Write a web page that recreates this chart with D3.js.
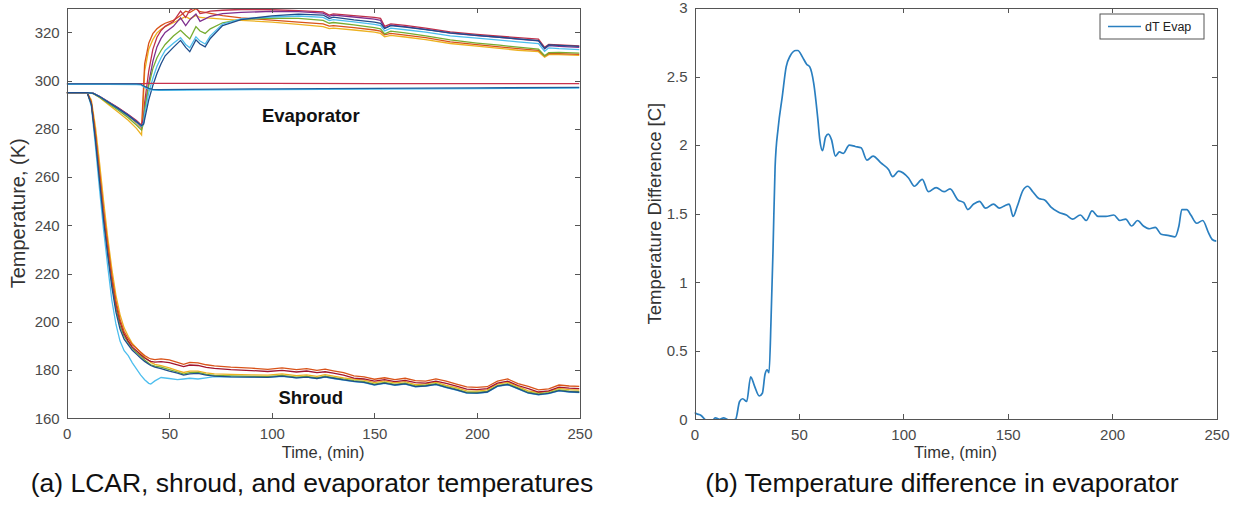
<!DOCTYPE html>
<meta charset="utf-8">
<script src="https://d3js.org/d3.v7.min.js"></script>
<style>
body { margin: 0; background: #fff; }
svg { display: block; font-family: "Liberation Sans", Arial, sans-serif; }
.axis path, .axis line { stroke: #555; stroke-width: 1; shape-rendering: crispEdges; }
.axis text { fill: #4a4a4a; font-size: 15px; font-family: "Liberation Sans", Arial, sans-serif; }
.lab { fill: #333; }
.note { font-weight: bold; font-size: 18.5px; fill: #111; }
.cap { font-size: 26.5px; fill: #111; }
</style>
<body>
<div id="container"></div>
<script>

//-----------------------------DATA-----------------------------//
// (a) LCAR temperatures [K] vs time [min]
var tL = [0, 10, 13, 16, 20, 25, 30, 34, 36.5, 37.5, 38, 40, 42, 44, 46, 48, 52, 55.5, 58, 60, 63, 65, 67.5, 70, 76, 85, 100, 113, 125, 128, 130, 140, 150, 153, 155, 158, 165, 175, 187, 200, 211, 220, 230, 233, 235, 240, 250];
var lcarBlue = [295, 295, 294.7, 293.4, 291.2, 288.5, 285.6, 283.0, 281.3, 282.0, 284, 292, 298, 303, 307, 310.3, 313.8, 316.7, 313.8, 312, 316.9, 315.2, 314, 317.5, 322.8, 325.3, 326.9, 327.6, 327.2, 325.8, 326.3, 325.2, 324.3, 323.8, 321.6, 322.8, 322.2, 321.2, 319.8, 318.8, 318, 317.3, 316.6, 313.4, 314.8, 314.6, 314.2];
var lcarRed = [295, 295, 294.7, 293.5, 291.4, 288.8, 286, 283.5, 281.5, 285, 291, 304, 313, 318, 320.8, 322.5, 324.5, 328.8, 326.2, 329.2, 330.5, 327.8, 328.2, 328.8, 329.2, 329.5, 329.4, 329, 328.5, 327.2, 327.7, 327, 326.2, 325.8, 322.5, 323.5, 322.9, 321.8, 320.2, 319.2, 318.5, 317.8, 317.2, 313.8, 315, 314.8, 314.4];
var lcarPurple = [295, 295, 294.7, 293.4, 291.3, 288.6, 285.8, 283.2, 281.0, 283.5, 288, 299, 308, 314, 317.5, 320, 322.5, 326, 322.8, 325.2, 327.6, 324.6, 325.6, 326.7, 327.8, 328.3, 328.7, 328.6, 328, 326.7, 327.2, 326.4, 325.5, 325, 321.8, 323, 322.4, 321.3, 319.7, 318.7, 318, 317.2, 316.5, 313.2, 314.5, 314.2, 313.8];
var lcarCyan = [295, 295, 294.7, 293.4, 291.2, 288.4, 285.5, 282.9, 281.0, 282.5, 286, 295, 301, 306, 309.5, 312.5, 315.5, 317.8, 315, 313.6, 318.2, 316.4, 315.2, 318.6, 323.5, 325.6, 326.4, 326.8, 326.2, 324.9, 325.3, 324.4, 323.3, 322.8, 320.6, 321.8, 321.1, 320.1, 318.6, 317.6, 316.8, 316.1, 315.4, 312.2, 313.6, 313.3, 312.9];
var lcarGreen = [295, 295, 294.6, 293.1, 290.8, 287.8, 284.6, 281.6, 279.5, 282.5, 288, 298, 305, 309.5, 312.5, 315, 318.5, 320.9, 318.8, 317.3, 322.4, 320.6, 319.6, 321.5, 324, 325.4, 325.9, 325.8, 325, 323.8, 324.1, 323.1, 322, 321.5, 319.4, 320.5, 319.8, 318.6, 316.9, 315.6, 314.7, 313.9, 313.1, 310.3, 311.6, 311.7, 311.4];
var lcarOrange = [295, 295, 294.7, 293.3, 291, 288.2, 285.3, 282.6, 280.5, 298, 307, 315.5, 319.5, 321.5, 322.8, 323.8, 325, 327, 328.8, 328.2, 329.8, 328.6, 328.3, 327.9, 327, 326, 325.1, 324.3, 323.5, 322.6, 322.8, 322, 321, 320.5, 319, 319.6, 318.9, 317.8, 316.1, 314.9, 314, 313.3, 312.6, 310.2, 311.2, 311.2, 310.9];
var lcarYellow = [295, 295, 294.6, 293, 290.3, 287, 283.6, 280.2, 277.5, 294, 304, 313, 317, 319.8, 321.3, 322.4, 324, 325.5, 326.6, 325.6, 327, 326.2, 326, 325.9, 325.5, 325, 324.3, 323.3, 322.4, 321.6, 321.8, 321, 320.1, 319.6, 318.2, 318.8, 318.1, 317, 315.4, 314.3, 313.4, 312.6, 312, 309.7, 310.8, 310.8, 310.5];

// (a) evaporator temperatures [K]
var tE = [0, 20, 34, 36, 38, 40, 42, 45, 60, 100, 150, 200, 250];
var evapRed = [298.8, 298.8, 298.8, 298.8, 298.8, 298.9, 298.9, 298.9, 298.9, 298.9, 298.8, 298.8, 298.8];
var evapBlue = [298.7, 298.7, 298.7, 298.6, 297.6, 296.8, 296.4, 296.3, 296.4, 296.6, 296.8, 297.0, 297.2];
var evapCyan = [298.5, 298.5, 298.4, 298.3, 297.2, 296.4, 296.1, 296.0, 296.1, 296.3, 296.5, 296.7, 296.9];

// (a) shroud temperatures [K]
var tS = [0, 10, 12, 14, 16, 18, 20, 22, 24, 26, 28, 30, 32, 34, 36, 38, 40, 41, 43, 46, 50, 54, 57, 60, 64, 68, 72, 80, 90, 98, 105, 112, 117, 122, 126, 130, 135, 140, 145, 150, 155, 160, 165, 170, 175, 180, 185, 190, 195, 200, 205, 210, 215, 220, 225, 230, 235, 240, 245, 250];
var shrOrange = [295, 295, 291, 278, 262, 246, 232, 219, 208.5, 201, 196, 193, 190.5, 189, 187.5, 186, 185, 184.6, 184.3, 184.6, 184.2, 183.2, 182.4, 183.2, 183, 182.2, 181.7, 181.2, 180.8, 180.3, 180.9, 180.2, 180.6, 179.9, 180.4, 179.7, 178.9, 177.6, 177.2, 176.2, 176.8, 176, 176.6, 175.6, 175.4, 176.3, 175.4, 174.2, 173, 172.8, 173.1, 175.4, 176.3, 174.4, 173.2, 171.8, 172.2, 173.8, 173.4, 173.2];
var shrRed = [295, 295, 290.8, 277.5, 261, 245, 231, 218, 207.5, 200, 195, 192, 189.5, 188, 186.5, 185, 184, 183.6, 183.3, 183.5, 183.1, 182.2, 181.4, 182.1, 181.9, 181.1, 180.7, 180.2, 179.8, 179.4, 179.9, 179.2, 179.6, 178.9, 179.3, 178.7, 177.9, 176.7, 176.3, 175.4, 176, 175.2, 175.7, 174.8, 174.6, 175.4, 174.5, 173.3, 172.1, 171.9, 172.3, 174.6, 175.4, 173.6, 172.3, 170.9, 171.4, 172.9, 172.5, 172.3];
var shrYellow = [295, 295, 292, 281, 266, 250, 235, 222, 211, 203, 197.5, 194, 191, 189.2, 187.2, 185.5, 184, 183.2, 182.4, 181.8, 180.9, 179.8, 179, 179.6, 179.6, 178.8, 178.4, 178.2, 178, 177.9, 178.4, 177.7, 178, 177.4, 178.1, 177.5, 176.8, 176.2, 175.8, 174.8, 175.5, 174.7, 175.2, 174, 174.3, 175, 173.7, 172.7, 171.4, 171.3, 171.8, 174.2, 174.9, 173.2, 171.4, 170.7, 171.2, 172.4, 171.9, 171.7];
var shrGreen = [295, 295, 290.5, 276.5, 260, 243.5, 229, 216, 205.5, 198.5, 194, 191.5, 189, 187.3, 185.8, 184.2, 182.8, 182.2, 181.6, 181.2, 180.2, 179.2, 178.3, 178.9, 179, 178.2, 177.8, 177.6, 177.4, 177.3, 177.8, 177.1, 177.4, 176.8, 177.5, 176.9, 176.2, 175.6, 175.2, 174.2, 174.9, 174.1, 174.6, 173.4, 173.7, 174.4, 173.1, 172.1, 170.8, 170.7, 171.2, 173.6, 174.3, 172.6, 170.8, 170.1, 170.6, 171.8, 171.3, 171.1];
var shrBlue = [295, 295, 290.2, 275.5, 258.5, 242, 227.5, 214.5, 204, 197, 192.8, 190.5, 188.2, 186.6, 185, 183.6, 182.4, 181.9, 181.2, 180.6, 179.6, 178.7, 177.9, 178.4, 178.6, 177.9, 177.5, 177.2, 177.1, 177, 177.5, 176.8, 177.1, 176.5, 177.2, 176.6, 175.9, 175.3, 174.9, 173.9, 174.6, 173.8, 174.3, 173.1, 173.4, 174.1, 172.8, 171.8, 170.5, 170.4, 170.9, 173.3, 174, 172.3, 170.5, 169.8, 170.3, 171.5, 171, 170.8];
var shrCyan = [295, 295, 289.5, 273, 255, 238, 223, 209, 199, 192, 188, 186, 183, 180.5, 178, 176, 174.5, 174.2, 175.5, 176.9, 176.5, 176, 176.3, 176.6, 176.3, 176.8, 177.3, 177.2, 177.1, 177, 177.4, 176.8, 177.1, 176.5, 177.1, 176.5, 175.8, 175.2, 174.8, 173.8, 174.5, 173.7, 174.2, 173, 173.3, 174, 172.7, 171.7, 170.4, 170.3, 170.8, 173.2, 173.9, 172.2, 170.4, 169.7, 170.2, 171.4, 170.9, 170.7];

// (b) temperature difference in evaporator [C]
var tD = [0, 1, 3, 5, 8, 10, 12, 14, 17, 19.7, 21.6, 23.1, 25, 26.9, 28.8, 31, 32.5, 33.8, 34.8, 35.7, 36.7, 37.6, 38.6, 40.1, 42, 43.9, 45.8, 48.6, 49.5, 51.8, 53.7, 55.2, 57.1, 59, 60, 61.3, 62.8, 64.1, 65.6, 67.5, 69.4, 71.3, 74.1, 77, 79.8, 82.6, 85.5, 89.3, 93, 94.9, 97.8, 102.5, 105.3, 109.1, 112, 115.7, 119.5, 122.4, 126.1, 129, 130.9, 133.7, 136.5, 139.4, 143.2, 146, 148.8, 150.7, 152.6, 154.5, 157.3, 159.6, 162, 164.9, 167.7, 170.6, 174.4, 178.1, 181, 184.8, 187.6, 190.4, 193.3, 197, 200.8, 203.7, 206.5, 209.4, 212.2, 215, 217.9, 220.7, 223.5, 227.3, 230.1, 232, 233.4, 235.8, 237.7, 240.5, 243.4, 246.2, 248.1, 250];
var dTEvap = [0.05, 0.04, 0.03, 0.0, -0.02, 0.01, 0.0, 0.01, -0.01, 0.0, 0.13, 0.15, 0.13, 0.31, 0.24, 0.17, 0.19, 0.33, 0.36, 0.34, 0.75, 1.23, 1.84, 2.13, 2.35, 2.57, 2.65, 2.69, 2.69, 2.64, 2.59, 2.57, 2.45, 2.2, 2.04, 1.96, 2.06, 2.08, 2.04, 1.92, 1.95, 1.94, 2.0, 1.99, 1.98, 1.89, 1.92, 1.87, 1.82, 1.77, 1.81, 1.76, 1.70, 1.75, 1.66, 1.69, 1.66, 1.68, 1.60, 1.58, 1.53, 1.57, 1.59, 1.54, 1.57, 1.54, 1.56, 1.57, 1.48, 1.55, 1.67, 1.70, 1.66, 1.61, 1.60, 1.55, 1.51, 1.49, 1.46, 1.49, 1.45, 1.52, 1.48, 1.48, 1.49, 1.45, 1.46, 1.41, 1.45, 1.41, 1.39, 1.40, 1.35, 1.34, 1.33, 1.41, 1.53, 1.53, 1.49, 1.43, 1.45, 1.36, 1.31, 1.30];

var xTicks = [0, 50, 100, 150, 200, 250];
var yTicksA = [160, 180, 200, 220, 240, 260, 280, 300, 320];
var yTicksB = [0, 0.5, 1, 1.5, 2, 2.5, 3];

// series -> colour (matlab palette)
var seriesA = [
    {t: tS, v: shrCyan, c: "#4DBEEE"},
    {t: tS, v: shrYellow, c: "#EDB120"},
    {t: tS, v: shrGreen, c: "#77AC30"},
    {t: tS, v: shrRed, c: "#A2142F"},
    {t: tS, v: shrOrange, c: "#D95319"},
    {t: tS, v: shrBlue, c: "#1f4e8c"},
    {t: tL, v: lcarYellow, c: "#EDB120"},
    {t: tL, v: lcarOrange, c: "#D95319"},
    {t: tL, v: lcarRed, c: "#C0304A"},
    {t: tL, v: lcarPurple, c: "#7E2F8E"},
    {t: tL, v: lcarGreen, c: "#77AC30"},
    {t: tL, v: lcarCyan, c: "#4DBEEE"},
    {t: tL, v: lcarBlue, c: "#1f4e8c"},
    {t: tE, v: evapRed, c: "#C8324E"},
    {t: tE, v: evapCyan, c: "#4DBEEE"},
    {t: tE, v: evapBlue, c: "#1f5f9c"}
];

//----------------------------LAYOUT----------------------------//
var W = 1241, H = 507;
var pA = {left: 66.7, right: 579.5, top: 8.3, bottom: 418.3};
var pB = {left: 694.5, right: 1216.5, top: 8, bottom: 419.3};

var svg = d3.select("#container").append("svg")
    .attr("width", W)
    .attr("height", H);

var xA = d3.scaleLinear().domain([0, 250]).range([pA.left, pA.right]);
var yA = d3.scaleLinear().domain([160, 330]).range([pA.bottom, pA.top]);
var xB = d3.scaleLinear().domain([0, 250]).range([pB.left, pB.right]);
var yB = d3.scaleLinear().domain([0, 3]).range([pB.bottom, pB.top]);

// draws the matlab style box with inward ticks on all four sides
function drawBox(p, x, y, yTicks, yFmt, pad) {
    svg.append("g").attr("class", "axis")
        .attr("transform", "translate(0," + p.bottom + ")")
        .call(d3.axisBottom(x).tickValues(xTicks).tickSizeInner(-5).tickSizeOuter(0).tickPadding(10));
    svg.append("g").attr("class", "axis")
        .attr("transform", "translate(0," + p.top + ")")
        .call(d3.axisTop(x).tickValues(xTicks).tickSizeInner(-5).tickSizeOuter(0).tickFormat(""));
    svg.append("g").attr("class", "axis")
        .attr("transform", "translate(" + p.left + ",0)")
        .call(d3.axisLeft(y).tickValues(yTicks).tickFormat(yFmt).tickSizeInner(-5).tickSizeOuter(0).tickPadding(pad));
    svg.append("g").attr("class", "axis")
        .attr("transform", "translate(" + p.right + ",0)")
        .call(d3.axisRight(y).tickValues(yTicks).tickSizeInner(-5).tickSizeOuter(0).tickFormat(""));
}

function clip(id, p) {
    svg.append("clipPath").attr("id", id).append("rect")
        .attr("x", p.left).attr("y", p.top)
        .attr("width", p.right - p.left).attr("height", p.bottom - p.top);
}

//-------------------------(a) PANEL----------------------------//
clip("clipA", pA);
var lineA = d3.line()
    .x(function(d) { return xA(d[0]); })
    .y(function(d) { return yA(d[1]); });

svg.append("g").attr("clip-path", "url(#clipA)")
    .selectAll("path")
    .data(seriesA)
    .enter()
    .append("path")
    .attr("fill", "none")
    .attr("stroke", function(d) { return d.c; })
    .attr("stroke-width", 1.3)
    .attr("d", function(d) { return lineA(d.t.map(function(t, i) { return [t, d.v[i]]; })); });

drawBox(pA, xA, yA, yTicksA, d3.format("d"), 7);

svg.append("text").attr("class", "note").attr("text-anchor", "middle")
    .attr("x", xA(119)).attr("y", yA(310.5)).text("LCAR");
svg.append("text").attr("class", "note").attr("text-anchor", "middle")
    .attr("x", xA(119)).attr("y", yA(283)).text("Evaporator");
svg.append("text").attr("class", "note").attr("text-anchor", "middle")
    .attr("x", xA(119)).attr("y", yA(166)).text("Shroud");

svg.append("text").attr("class", "lab").attr("text-anchor", "middle")
    .style("font-size", "16.5px")
    .attr("x", (pA.left + pA.right) / 2).attr("y", 458)
    .text("Time, (min)");
svg.append("text").attr("class", "lab").attr("text-anchor", "middle")
    .style("font-size", "20px")
    .attr("transform", "translate(25," + ((pA.top + pA.bottom) / 2) + ") rotate(-90)")
    .text("Temperature, (K)");

//-------------------------(b) PANEL----------------------------//
clip("clipB", pB);
var lineB = d3.line()
    .curve(d3.curveMonotoneX)
    .x(function(d, i) { return xB(tD[i]); })
    .y(function(d) { return yB(d); });

svg.append("g").attr("clip-path", "url(#clipB)")
    .append("path")
    .datum(dTEvap)
    .attr("fill", "none")
    .attr("stroke", "#2a7fc0")
    .attr("stroke-width", 1.7)
    .attr("d", lineB);

drawBox(pB, xB, yB, yTicksB, function(d) { return String(d); }, 7);

svg.append("text").attr("class", "lab").attr("text-anchor", "middle")
    .style("font-size", "16.5px")
    .attr("x", (pB.left + pB.right) / 2).attr("y", 458)
    .text("Time, (min)");
svg.append("text").attr("class", "lab").attr("text-anchor", "middle")
    .style("font-size", "18.5px")
    .attr("transform", "translate(661," + ((pB.top + pB.bottom) / 2) + ") rotate(-90)")
    .text("Temperature Difference [C]");

// legend
var lg = svg.append("g").attr("transform", "translate(1100,14)");
lg.append("rect").attr("width", 104).attr("height", 25)
    .attr("fill", "#fff").attr("stroke", "#555").attr("stroke-width", 1);
lg.append("line").attr("x1", 8).attr("x2", 41).attr("y1", 12.5).attr("y2", 12.5)
    .attr("stroke", "#2a7fc0").attr("stroke-width", 1.7);
lg.append("text").attr("x", 45).attr("y", 17)
    .style("font-size", "12.5px").attr("fill", "#222")
    .text("dT Evap");

//---------------------------CAPTIONS---------------------------//
svg.append("text").attr("class", "cap").attr("text-anchor", "middle")
    .attr("x", 312).attr("y", 492)
    .text("(a) LCAR, shroud, and evaporator temperatures");
svg.append("text").attr("class", "cap").attr("text-anchor", "middle")
    .attr("x", 942).attr("y", 492)
    .text("(b) Temperature difference in evaporator");

</script>
</body>
